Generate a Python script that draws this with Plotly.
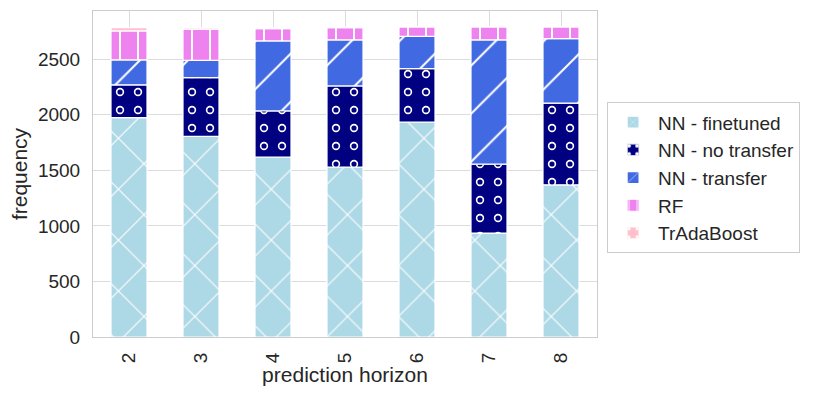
import plotly.graph_objects as go

horizons = ["2", "3", "4", "5", "6", "7", "8"]
nn_finetuned = [1975, 1805, 1620, 1530, 1935, 935, 1370]
nn_no_transfer = [295, 530, 415, 730, 480, 620, 735]
nn_transfer = [225, 155, 630, 415, 290, 1120, 580]
rf = [260, 280, 110, 110, 85, 115, 105]
tradaboost = [30, 15, 10, 5, 3, 3, 3]

series = [
    ("NN - finetuned", nn_finetuned, "#ADD8E6", "x", 36, 0.06),
    ("NN - no transfer", nn_no_transfer, "#000080", ".", 18, 0.17),
    ("NN - transfer", nn_transfer, "#4169E1", "/", 34, 0.06),
    ("RF", rf, "#EE82EE", "|", 18, 0.11),
    ("TrAdaBoost", tradaboost, "#FFC0CB", ".", 18, 0.1),
]

fig = go.Figure()
base = [0] * len(horizons)
for i, (name, vals, col, shape, size, sol) in enumerate(series):
    fig.add_trace(go.Bar(
        x=horizons, y=vals, base=list(base), name=name, width=0.5,
        marker=dict(color=col, line=dict(color="white", width=1.2),
                    pattern=dict(shape=shape, fgcolor="white", bgcolor=col,
                                 size=size, solidity=sol, fillmode="replace")),
    ))
    if name == "NN - no transfer":
        # inner part of the rings
        fig.add_trace(go.Bar(
            x=horizons, y=vals, base=list(base), showlegend=False, width=0.5,
            hoverinfo="skip",
            marker=dict(color="rgba(0,0,0,0)", line=dict(width=0),
                        pattern=dict(shape=".", fgcolor=col, bgcolor="rgba(0,0,0,0)",
                                     size=size, solidity=0.065, fillmode="replace")),
        ))
    base = [b + v for b, v in zip(base, vals)]

font = "Liberation Sans, Arial, sans-serif"
fig.update_layout(
    barmode="overlay",
    width=815, height=382,
    margin=dict(l=85, r=226, t=3, b=53, autoexpand=False),
    plot_bgcolor="white", paper_bgcolor="white",
    font=dict(family=font, size=19, color="#262626"),
    legend=dict(x=1.02, y=0.72, xanchor="left", yanchor="top",
                bordercolor="#cccccc", borderwidth=1, bgcolor="white",
                font=dict(size=19), traceorder="normal",
                itemwidth=40),
    showlegend=True,
)
fig.update_xaxes(
    title=dict(text="prediction horizon", font=dict(size=21), standoff=4),
    tickangle=-90, showgrid=True, gridcolor="#dcdcdc", gridwidth=1,
    showline=True, linecolor="#cccccc", mirror=True, ticks="",
    tickfont=dict(size=19), range=[-0.5, 6.5], automargin=False,
    ticklabelstandoff=7,
)
fig.update_yaxes(
    title=dict(text="frequency", font=dict(size=21), standoff=10),
    range=[0, 2934], tickvals=[0, 500, 1000, 1500, 2000, 2500],
    showgrid=True, gridcolor="#dcdcdc", gridwidth=1, zeroline=False,
    showline=True, linecolor="#cccccc", mirror=True, ticks="",
    tickfont=dict(size=19), automargin=False, ticklabelstandoff=8,
)
fig.write_html("out.html")
